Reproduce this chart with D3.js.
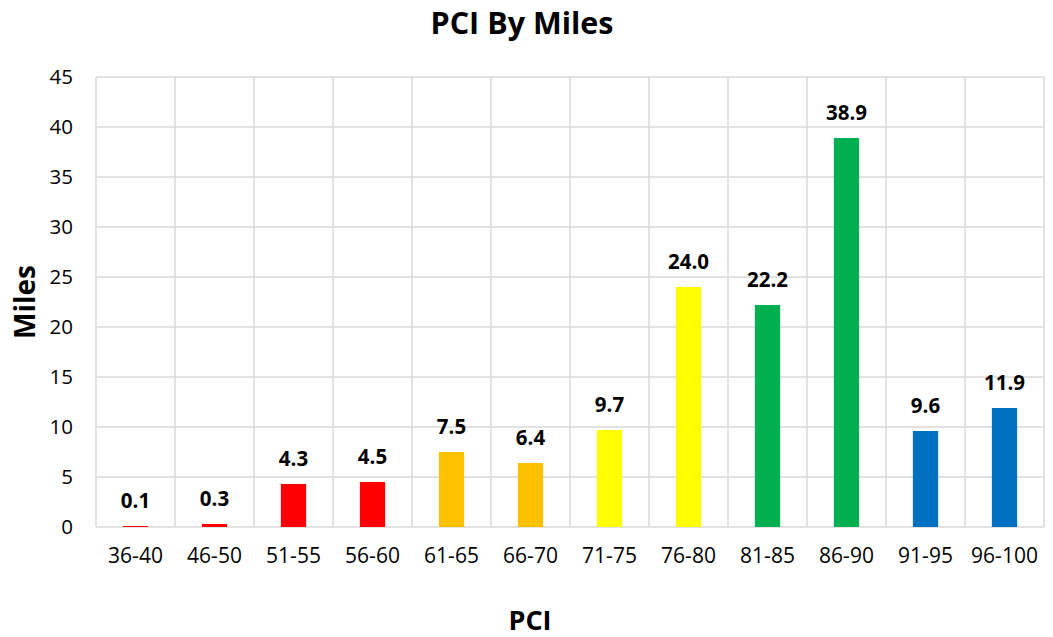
<!DOCTYPE html>
<html><head><meta charset="utf-8">
<script src="https://cdn.jsdelivr.net/npm/d3@7"></script>
<style>body{margin:0;background:#fff}svg{display:block;font-family:"Open Sans","Noto Sans",sans-serif}</style>
</head><body><svg id="c" width="1053" height="637"></svg>
<script>
const categories = ["36-40","46-50","51-55","56-60","61-65","66-70","71-75","76-80","81-85","86-90","91-95","96-100"];
const miles = [0.1,0.3,4.3,4.5,7.5,6.4,9.7,24.0,22.2,38.9,9.6,11.9];
const barColors = ["#FF0000","#FF0000","#FF0000","#FF0000","#FFC000","#FFC000","#FFFF00","#FFFF00","#00B050","#00B050","#0070C0","#0070C0"];
const yTicks = [0,5,10,15,20,25,30,35,40,45];

const svg = d3.select("#c");
const m = {l:96, r:1044, t:77, b:527};
const x = d3.scaleBand().domain(categories).range([m.l, m.r]).paddingInner(0.68).paddingOuter(0.34);
const xg = d3.scaleBand().domain(categories).range([m.l, m.r]);
const y = d3.scaleLinear().domain([0,45]).range([m.b, m.t]);

const grid = svg.append("g").attr("stroke","#D9D9D9").attr("stroke-width",1.5);
yTicks.forEach(t => grid.append("line").attr("x1",m.l).attr("x2",m.r).attr("y1",y(t)).attr("y2",y(t)));
categories.forEach(c => grid.append("line").attr("x1",xg(c)).attr("x2",xg(c)).attr("y1",m.t).attr("y2",m.b));
grid.append("line").attr("x1",m.r).attr("x2",m.r).attr("y1",m.t).attr("y2",m.b);

svg.append("g").selectAll("rect").data(miles).join("rect")
  .attr("x",(d,i)=>x(categories[i])).attr("width",x.bandwidth())
  .attr("y",d=>y(d)).attr("height",d=>y(0)-y(d)).attr("fill",(d,i)=>barColors[i]);

svg.append("g").selectAll("text").data(miles).join("text")
  .attr("x",(d,i)=>x(categories[i])+x.bandwidth()/2).attr("y",d=>y(d)-18)
  .attr("text-anchor","middle").attr("font-size",20.5).attr("font-weight","bold").attr("fill","#000")
  .text(d=>d.toFixed(1));

const ya = svg.append("g").attr("transform",`translate(${m.l},0)`)
  .call(d3.axisLeft(y).tickValues(yTicks).tickSize(0).tickPadding(23));
ya.select(".domain").remove();
ya.selectAll("text").attr("font-size",20.5).attr("fill","#000").attr("font-family","Open Sans");

const xa = svg.append("g").attr("transform",`translate(0,${m.b})`)
  .call(d3.axisBottom(xg).tickSize(0).tickPadding(21));
xa.select(".domain").remove();
xa.selectAll("text").attr("font-size",21).attr("fill","#000").attr("font-family","Open Sans");

svg.append("text").attr("x",522).attr("y",34).attr("text-anchor","middle").attr("font-size",30.5).attr("font-weight","bold").text("PCI By Miles");
svg.append("text").attr("x",530).attr("y",630).attr("text-anchor","middle").attr("font-size",27).attr("font-weight","bold").text("PCI");
svg.append("text").attr("transform","translate(35,302) rotate(-90)").attr("text-anchor","middle").attr("font-size",28).attr("font-weight","bold").text("Miles");
</script></body></html>
